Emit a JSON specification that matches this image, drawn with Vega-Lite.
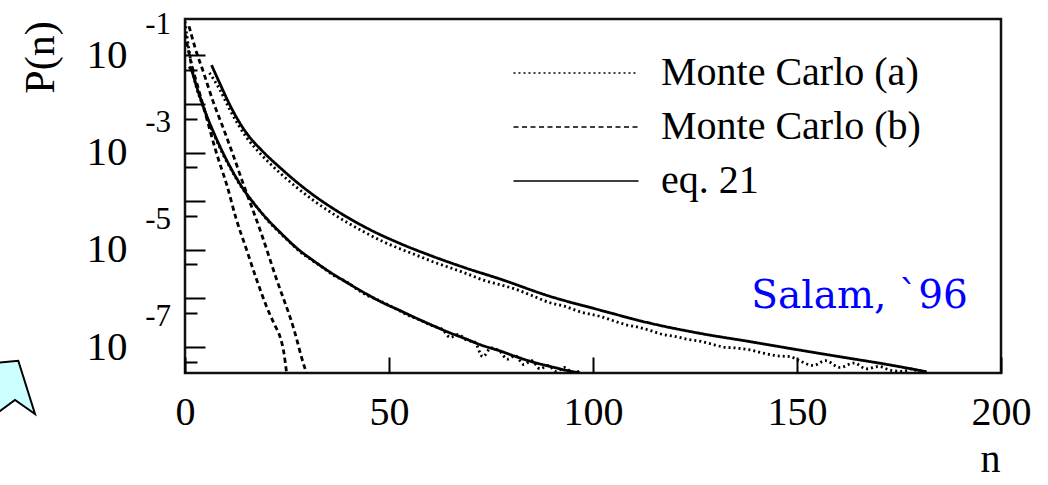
{
  "$schema": "https://vega.github.io/schema/vega-lite/v6.json",
  "width": 816,
  "height": 354,
  "autosize": {"type": "none"},
  "padding": {"left": 185, "top": 19, "right": 47, "bottom": 112},
  "background": "white",
  "datasets": {
    "curves": [
      {"s": "eq. 21", "c": "A", "n": 6.5, "p": 6.31e-2},
      {"s": "eq. 21", "c": "A", "n": 8.5, "p": 2.69e-2},
      {"s": "eq. 21", "c": "A", "n": 11, "p": 9.55e-3},
      {"s": "eq. 21", "c": "A", "n": 13, "p": 4.68e-3},
      {"s": "eq. 21", "c": "A", "n": 15.1, "p": 2.51e-3},
      {"s": "eq. 21", "c": "A", "n": 19, "p": 1.07e-3},
      {"s": "eq. 21", "c": "A", "n": 23.3, "p": 4.90e-4},
      {"s": "eq. 21", "c": "A", "n": 27, "p": 2.63e-4},
      {"s": "eq. 21", "c": "A", "n": 31.4, "p": 1.35e-4},
      {"s": "eq. 21", "c": "A", "n": 36.3, "p": 7.08e-5},
      {"s": "eq. 21", "c": "A", "n": 44.5, "p": 2.82e-5},
      {"s": "eq. 21", "c": "A", "n": 52.7, "p": 1.35e-5},
      {"s": "eq. 21", "c": "A", "n": 60.9, "p": 7.24e-6},
      {"s": "eq. 21", "c": "A", "n": 69, "p": 4.17e-6},
      {"s": "eq. 21", "c": "A", "n": 77.2, "p": 2.51e-6},
      {"s": "eq. 21", "c": "A", "n": 89.5, "p": 1.10e-6},
      {"s": "eq. 21", "c": "A", "n": 101.7, "p": 5.75e-7},
      {"s": "eq. 21", "c": "A", "n": 114, "p": 3.09e-7},
      {"s": "eq. 21", "c": "A", "n": 126.2, "p": 1.91e-7},
      {"s": "eq. 21", "c": "A", "n": 138.5, "p": 1.29e-7},
      {"s": "eq. 21", "c": "A", "n": 148.3, "p": 9.33e-8},
      {"s": "eq. 21", "c": "A", "n": 160.5, "p": 6.31e-8},
      {"s": "eq. 21", "c": "A", "n": 172.8, "p": 4.27e-8},
      {"s": "eq. 21", "c": "A", "n": 181.8, "p": 3.09e-8},

      {"s": "Monte Carlo (a)", "c": "A", "n": 6, "p": 4.37e-2},
      {"s": "Monte Carlo (a)", "c": "A", "n": 8.5, "p": 2.00e-2},
      {"s": "Monte Carlo (a)", "c": "A", "n": 11, "p": 7.59e-3},
      {"s": "Monte Carlo (a)", "c": "A", "n": 13, "p": 3.80e-3},
      {"s": "Monte Carlo (a)", "c": "A", "n": 15.1, "p": 2.04e-3},
      {"s": "Monte Carlo (a)", "c": "A", "n": 19, "p": 8.51e-4},
      {"s": "Monte Carlo (a)", "c": "A", "n": 23.3, "p": 3.80e-4},
      {"s": "Monte Carlo (a)", "c": "A", "n": 27, "p": 2.04e-4},
      {"s": "Monte Carlo (a)", "c": "A", "n": 31.4, "p": 1.05e-4},
      {"s": "Monte Carlo (a)", "c": "A", "n": 36.3, "p": 5.50e-5},
      {"s": "Monte Carlo (a)", "c": "A", "n": 40, "p": 3.55e-5},
      {"s": "Monte Carlo (a)", "c": "A", "n": 44.5, "p": 2.19e-5},
      {"s": "Monte Carlo (a)", "c": "A", "n": 48.5, "p": 1.48e-5},
      {"s": "Monte Carlo (a)", "c": "A", "n": 52.7, "p": 1.05e-5},
      {"s": "Monte Carlo (a)", "c": "A", "n": 57, "p": 7.59e-6},
      {"s": "Monte Carlo (a)", "c": "A", "n": 60.9, "p": 5.62e-6},
      {"s": "Monte Carlo (a)", "c": "A", "n": 65, "p": 4.27e-6},
      {"s": "Monte Carlo (a)", "c": "A", "n": 69, "p": 3.24e-6},
      {"s": "Monte Carlo (a)", "c": "A", "n": 73, "p": 2.40e-6},
      {"s": "Monte Carlo (a)", "c": "A", "n": 77.2, "p": 1.91e-6},
      {"s": "Monte Carlo (a)", "c": "A", "n": 81, "p": 1.55e-6},
      {"s": "Monte Carlo (a)", "c": "A", "n": 85, "p": 1.15e-6},
      {"s": "Monte Carlo (a)", "c": "A", "n": 89.5, "p": 8.13e-7},
      {"s": "Monte Carlo (a)", "c": "A", "n": 93, "p": 6.92e-7},
      {"s": "Monte Carlo (a)", "c": "A", "n": 97, "p": 5.25e-7},
      {"s": "Monte Carlo (a)", "c": "A", "n": 101.7, "p": 4.27e-7},
      {"s": "Monte Carlo (a)", "c": "A", "n": 105, "p": 3.47e-7},
      {"s": "Monte Carlo (a)", "c": "A", "n": 108, "p": 2.88e-7},
      {"s": "Monte Carlo (a)", "c": "A", "n": 111, "p": 2.57e-7},
      {"s": "Monte Carlo (a)", "c": "A", "n": 114, "p": 2.19e-7},
      {"s": "Monte Carlo (a)", "c": "A", "n": 117, "p": 1.82e-7},
      {"s": "Monte Carlo (a)", "c": "A", "n": 120, "p": 1.66e-7},
      {"s": "Monte Carlo (a)", "c": "A", "n": 123, "p": 1.45e-7},
      {"s": "Monte Carlo (a)", "c": "A", "n": 126.2, "p": 1.32e-7},
      {"s": "Monte Carlo (a)", "c": "A", "n": 129, "p": 1.15e-7},
      {"s": "Monte Carlo (a)", "c": "A", "n": 132, "p": 1.00e-7},
      {"s": "Monte Carlo (a)", "c": "A", "n": 135, "p": 9.55e-8},
      {"s": "Monte Carlo (a)", "c": "A", "n": 138.5, "p": 8.71e-8},
      {"s": "Monte Carlo (a)", "c": "A", "n": 142, "p": 7.41e-8},
      {"s": "Monte Carlo (a)", "c": "A", "n": 145, "p": 6.61e-8},
      {"s": "Monte Carlo (a)", "c": "A", "n": 148.3, "p": 6.31e-8},
      {"s": "Monte Carlo (a)", "c": "A", "n": 151, "p": 5.01e-8},
      {"s": "Monte Carlo (a)", "c": "A", "n": 154, "p": 4.17e-8},
      {"s": "Monte Carlo (a)", "c": "A", "n": 157, "p": 5.25e-8},
      {"s": "Monte Carlo (a)", "c": "A", "n": 160.5, "p": 3.80e-8},
      {"s": "Monte Carlo (a)", "c": "A", "n": 164, "p": 4.68e-8},
      {"s": "Monte Carlo (a)", "c": "A", "n": 167, "p": 3.55e-8},
      {"s": "Monte Carlo (a)", "c": "A", "n": 170, "p": 3.98e-8},
      {"s": "Monte Carlo (a)", "c": "A", "n": 173, "p": 3.31e-8},
      {"s": "Monte Carlo (a)", "c": "A", "n": 176, "p": 3.16e-8},
      {"s": "Monte Carlo (a)", "c": "A", "n": 178, "p": 3.55e-8},
      {"s": "Monte Carlo (a)", "c": "A", "n": 180, "p": 2.95e-8},

      {"s": "eq. 21", "c": "B", "n": 1, "p": 5.89e-2},
      {"s": "eq. 21", "c": "B", "n": 1.8, "p": 4.47e-2},
      {"s": "eq. 21", "c": "B", "n": 2.5, "p": 2.82e-2},
      {"s": "eq. 21", "c": "B", "n": 4, "p": 1.17e-2},
      {"s": "eq. 21", "c": "B", "n": 5.5, "p": 5.25e-3},
      {"s": "eq. 21", "c": "B", "n": 7, "p": 2.63e-3},
      {"s": "eq. 21", "c": "B", "n": 9.4, "p": 9.55e-4},
      {"s": "eq. 21", "c": "B", "n": 11.5, "p": 4.37e-4},
      {"s": "eq. 21", "c": "B", "n": 13.9, "p": 2.00e-4},
      {"s": "eq. 21", "c": "B", "n": 17.6, "p": 7.59e-5},
      {"s": "eq. 21", "c": "B", "n": 20.5, "p": 3.98e-5},
      {"s": "eq. 21", "c": "B", "n": 23.3, "p": 2.29e-5},
      {"s": "eq. 21", "c": "B", "n": 28.2, "p": 9.55e-6},
      {"s": "eq. 21", "c": "B", "n": 31.4, "p": 6.03e-6},
      {"s": "eq. 21", "c": "B", "n": 36.3, "p": 3.16e-6},
      {"s": "eq. 21", "c": "B", "n": 39.6, "p": 2.14e-6},
      {"s": "eq. 21", "c": "B", "n": 44.5, "p": 1.23e-6},
      {"s": "eq. 21", "c": "B", "n": 47.8, "p": 8.71e-7},
      {"s": "eq. 21", "c": "B", "n": 52.7, "p": 5.62e-7},
      {"s": "eq. 21", "c": "B", "n": 56, "p": 4.17e-7},
      {"s": "eq. 21", "c": "B", "n": 60.8, "p": 2.75e-7},
      {"s": "eq. 21", "c": "B", "n": 64.1, "p": 2.09e-7},
      {"s": "eq. 21", "c": "B", "n": 69, "p": 1.45e-7},
      {"s": "eq. 21", "c": "B", "n": 72.3, "p": 1.12e-7},
      {"s": "eq. 21", "c": "B", "n": 77.2, "p": 8.32e-8},
      {"s": "eq. 21", "c": "B", "n": 80.5, "p": 6.61e-8},
      {"s": "eq. 21", "c": "B", "n": 85.3, "p": 4.90e-8},
      {"s": "eq. 21", "c": "B", "n": 89.5, "p": 3.98e-8},
      {"s": "eq. 21", "c": "B", "n": 93.5, "p": 3.31e-8},
      {"s": "eq. 21", "c": "B", "n": 96.8, "p": 2.92e-8},

      {"s": "Monte Carlo (a)", "c": "B", "n": 0, "p": 5.01e-1},
      {"s": "Monte Carlo (a)", "c": "B", "n": 0.5, "p": 2.40e-1},
      {"s": "Monte Carlo (a)", "c": "B", "n": 1, "p": 1.26e-1},
      {"s": "Monte Carlo (a)", "c": "B", "n": 1.5, "p": 7.08e-2},
      {"s": "Monte Carlo (a)", "c": "B", "n": 2.2, "p": 3.55e-2},
      {"s": "Monte Carlo (a)", "c": "B", "n": 3, "p": 1.91e-2},
      {"s": "Monte Carlo (a)", "c": "B", "n": 4, "p": 1.12e-2},
      {"s": "Monte Carlo (a)", "c": "B", "n": 5.5, "p": 5.01e-3},
      {"s": "Monte Carlo (a)", "c": "B", "n": 7, "p": 2.45e-3},
      {"s": "Monte Carlo (a)", "c": "B", "n": 9.4, "p": 8.91e-4},
      {"s": "Monte Carlo (a)", "c": "B", "n": 11.5, "p": 4.17e-4},
      {"s": "Monte Carlo (a)", "c": "B", "n": 13.9, "p": 1.91e-4},
      {"s": "Monte Carlo (a)", "c": "B", "n": 16, "p": 1.12e-4},
      {"s": "Monte Carlo (a)", "c": "B", "n": 18, "p": 6.92e-5},
      {"s": "Monte Carlo (a)", "c": "B", "n": 20.5, "p": 3.80e-5},
      {"s": "Monte Carlo (a)", "c": "B", "n": 23, "p": 2.34e-5},
      {"s": "Monte Carlo (a)", "c": "B", "n": 25.5, "p": 1.48e-5},
      {"s": "Monte Carlo (a)", "c": "B", "n": 28.2, "p": 9.12e-6},
      {"s": "Monte Carlo (a)", "c": "B", "n": 31.4, "p": 5.89e-6},
      {"s": "Monte Carlo (a)", "c": "B", "n": 34, "p": 4.17e-6},
      {"s": "Monte Carlo (a)", "c": "B", "n": 36.3, "p": 3.02e-6},
      {"s": "Monte Carlo (a)", "c": "B", "n": 39.6, "p": 2.19e-6},
      {"s": "Monte Carlo (a)", "c": "B", "n": 42, "p": 1.58e-6},
      {"s": "Monte Carlo (a)", "c": "B", "n": 44.5, "p": 1.17e-6},
      {"s": "Monte Carlo (a)", "c": "B", "n": 47, "p": 9.55e-7},
      {"s": "Monte Carlo (a)", "c": "B", "n": 50, "p": 7.24e-7},
      {"s": "Monte Carlo (a)", "c": "B", "n": 52.7, "p": 5.50e-7},
      {"s": "Monte Carlo (a)", "c": "B", "n": 55, "p": 4.37e-7},
      {"s": "Monte Carlo (a)", "c": "B", "n": 58, "p": 3.47e-7},
      {"s": "Monte Carlo (a)", "c": "B", "n": 60.8, "p": 2.69e-7},
      {"s": "Monte Carlo (a)", "c": "B", "n": 63, "p": 2.34e-7},
      {"s": "Monte Carlo (a)", "c": "B", "n": 65, "p": 1.58e-7},
      {"s": "Monte Carlo (a)", "c": "B", "n": 67, "p": 1.82e-7},
      {"s": "Monte Carlo (a)", "c": "B", "n": 69, "p": 1.38e-7},
      {"s": "Monte Carlo (a)", "c": "B", "n": 71, "p": 1.26e-7},
      {"s": "Monte Carlo (a)", "c": "B", "n": 73, "p": 6.31e-8},
      {"s": "Monte Carlo (a)", "c": "B", "n": 75, "p": 9.55e-8},
      {"s": "Monte Carlo (a)", "c": "B", "n": 77.2, "p": 8.13e-8},
      {"s": "Monte Carlo (a)", "c": "B", "n": 79, "p": 5.62e-8},
      {"s": "Monte Carlo (a)", "c": "B", "n": 81, "p": 6.61e-8},
      {"s": "Monte Carlo (a)", "c": "B", "n": 83, "p": 4.37e-8},
      {"s": "Monte Carlo (a)", "c": "B", "n": 85, "p": 5.25e-8},
      {"s": "Monte Carlo (a)", "c": "B", "n": 87, "p": 3.55e-8},
      {"s": "Monte Carlo (a)", "c": "B", "n": 89, "p": 4.17e-8},
      {"s": "Monte Carlo (a)", "c": "B", "n": 91, "p": 3.16e-8},
      {"s": "Monte Carlo (a)", "c": "B", "n": 93, "p": 3.80e-8},
      {"s": "Monte Carlo (a)", "c": "B", "n": 95, "p": 3.02e-8},
      {"s": "Monte Carlo (a)", "c": "B", "n": 96.8, "p": 3.16e-8},

      {"s": "Monte Carlo (b)", "c": "B", "n": 0, "p": 2.82e-1},
      {"s": "Monte Carlo (b)", "c": "B", "n": 1.5, "p": 7.08e-2},
      {"s": "Monte Carlo (b)", "c": "B", "n": 3, "p": 2.51e-2},
      {"s": "Monte Carlo (b)", "c": "B", "n": 5, "p": 6.31e-3},
      {"s": "Monte Carlo (b)", "c": "B", "n": 7.5, "p": 1.12e-3},
      {"s": "Monte Carlo (b)", "c": "B", "n": 10.4, "p": 1.95e-4},
      {"s": "Monte Carlo (b)", "c": "B", "n": 12.5, "p": 4.47e-5},
      {"s": "Monte Carlo (b)", "c": "B", "n": 15.1, "p": 1.00e-5},
      {"s": "Monte Carlo (b)", "c": "B", "n": 17.5, "p": 2.51e-6},
      {"s": "Monte Carlo (b)", "c": "B", "n": 20, "p": 6.76e-7},
      {"s": "Monte Carlo (b)", "c": "B", "n": 22, "p": 2.82e-7},
      {"s": "Monte Carlo (b)", "c": "B", "n": 23.3, "p": 1.62e-7},
      {"s": "Monte Carlo (b)", "c": "B", "n": 24.2, "p": 7.94e-8},
      {"s": "Monte Carlo (b)", "c": "B", "n": 24.9, "p": 2.92e-8},

      {"s": "Monte Carlo (b)", "c": "A", "n": 1, "p": 3.98e-1},
      {"s": "Monte Carlo (b)", "c": "A", "n": 2.5, "p": 1.41e-1},
      {"s": "Monte Carlo (b)", "c": "A", "n": 4.5, "p": 4.57e-2},
      {"s": "Monte Carlo (b)", "c": "A", "n": 6.9, "p": 1.12e-2},
      {"s": "Monte Carlo (b)", "c": "A", "n": 9.4, "p": 3.16e-3},
      {"s": "Monte Carlo (b)", "c": "A", "n": 11.8, "p": 8.91e-4},
      {"s": "Monte Carlo (b)", "c": "A", "n": 14.3, "p": 2.24e-4},
      {"s": "Monte Carlo (b)", "c": "A", "n": 18.4, "p": 2.57e-5},
      {"s": "Monte Carlo (b)", "c": "A", "n": 22.5, "p": 2.40e-6},
      {"s": "Monte Carlo (b)", "c": "A", "n": 26.5, "p": 2.63e-7},
      {"s": "Monte Carlo (b)", "c": "A", "n": 29.4, "p": 3.63e-8},
      {"s": "Monte Carlo (b)", "c": "A", "n": 29.8, "p": 2.92e-8}
    ],
    "exps": [
      {"p": 1e-1, "label": "-1"},
      {"p": 1e-3, "label": "-3"},
      {"p": 1e-5, "label": "-5"},
      {"p": 1e-7, "label": "-7"}
    ],
    "note": [
      {"n": 191.9, "p": 6.34e-7, "label": "Salam, `96"}
    ],
    "callout": [
      {"i": 1, "n": -46, "p": 4.75e-8},
      {"i": 2, "n": -40.86, "p": 5.22e-8},
      {"i": 3, "n": -36.76, "p": 4.18e-9},
      {"i": 4, "n": -41.67, "p": 8.11e-9},
      {"i": 5, "n": -46, "p": 4.37e-9}
    ]
  },
  "layer": [
    {
      "data": {"name": "curves"},
      "mark": {"type": "line", "color": "black", "interpolate": "monotone", "clip": true, "strokeWidth": 2.8},
      "encoding": {
        "x": {
          "field": "n", "type": "quantitative",
          "scale": {"domain": [0, 200], "nice": false, "zero": false},
          "axis": {
            "orient": "bottom",
            "values": [0, 50, 100, 150, 200],
            "tickSize": -16, "tickWidth": 2, "tickColor": "black",
            "labelFont": "Liberation Serif", "labelFontSize": 40, "labelColor": "black",
            "labelPadding": 55, "labelBaseline": "middle", "labelFlush": false, "labelOverlap": false,
            "domain": false, "grid": false,
            "title": "n", "titleFont": "Liberation Serif", "titleFontSize": 40, "titleFontWeight": "normal", "titleColor": "black",
            "titleX": 805, "titleY": 98, "titleAlign": "center", "titleBaseline": "alphabetic"
          }
        },
        "y": {
          "field": "p", "type": "quantitative",
          "scale": {"type": "log", "domain": [2.92e-8, 0.561], "nice": false},
          "axis": {
            "orient": "left",
            "values": [1e-1, 1e-2, 1e-3, 1e-4, 1e-5, 1e-6, 1e-7],
            "labelExpr": "round(log(datum.value)/LN10) % 2 != 0 ? '10' : ''",
            "tickSize": -20, "tickWidth": 2, "tickColor": "black",
            "labelFont": "Liberation Serif", "labelFontSize": 41, "labelColor": "black",
            "labelPadding": 78, "labelAlign": "right", "labelBaseline": "middle", "labelFlush": false, "labelOverlap": false,
            "domain": false, "grid": false,
            "title": "P(n)", "titleFont": "Liberation Serif", "titleFontSize": 42, "titleFontWeight": "normal", "titleColor": "black",
            "titleAngle": -90, "titleX": -145, "titleY": 38, "titleAlign": "center", "titleBaseline": "middle"
          }
        },
        "detail": {"field": "c"},
        "strokeDash": {
          "field": "s", "type": "nominal",
          "scale": {"domain": ["Monte Carlo (a)", "Monte Carlo (b)", "eq. 21"], "range": [[2, 3], [5, 3.5], [1, 0]]},
          "legend": {
            "orient": "none", "legendX": 371, "legendY": 34, "title": null,
            "symbolType": "M-5,0H5", "symbolSize": 625, "symbolStrokeWidth": 1.5, "symbolStrokeColor": "black",
            "labelFont": "Liberation Serif", "labelFontSize": 40, "labelColor": "black",
            "labelOffset": 65, "rowPadding": 14, "labelLimit": 0, "padding": 0
          }
        }
      }
    },
    {
      "data": {"name": "callout"},
      "mark": {"type": "line", "interpolate": "linear-closed", "fill": "#ccffff", "stroke": "black", "strokeWidth": 2, "clip": false},
      "encoding": {
        "x": {"field": "n", "type": "quantitative", "scale": {"domain": [0, 200], "nice": false, "zero": false}},
        "y": {"field": "p", "type": "quantitative", "scale": {"type": "log", "domain": [2.92e-8, 0.561], "nice": false}, "axis": null},
        "order": {"field": "i"}
      }
    },
    {
      "data": {"name": "exps"},
      "mark": {"type": "text", "font": "Liberation Serif", "fontSize": 31, "color": "black", "align": "right", "baseline": "middle", "dx": -14, "dy": -30, "clip": false},
      "encoding": {
        "x": {"datum": 0, "type": "quantitative", "scale": {"domain": [0, 200], "nice": false, "zero": false}},
        "y": {
          "field": "p", "type": "quantitative",
          "scale": {"type": "log", "domain": [2.92e-8, 0.561], "nice": false},
          "axis": {
            "orient": "left",
            "values": [5e-2, 5e-3, 5e-4, 5e-5, 5e-6, 5e-7, 5e-8],
            "tickSize": -12, "tickWidth": 2, "tickColor": "black",
            "labels": false, "domain": false, "grid": false, "title": null
          }
        },
        "text": {"field": "label"}
      }
    },
    {
      "data": {"name": "note"},
      "mark": {"type": "text", "font": "DejaVu Serif", "fontSize": 39, "color": "#0000ff", "align": "right", "baseline": "alphabetic"},
      "encoding": {
        "x": {"field": "n", "type": "quantitative", "scale": {"domain": [0, 200], "nice": false, "zero": false}},
        "y": {"field": "p", "type": "quantitative", "scale": {"type": "log", "domain": [2.92e-8, 0.561], "nice": false}, "axis": null},
        "text": {"field": "label"}
      }
    }
  ],
  "resolve": {"axis": {"y": "independent"}},
  "config": {
    "view": {"stroke": "#111", "strokeWidth": 2.5},
    "font": "Liberation Serif",
    "axis": {"grid": false}
  }
}
